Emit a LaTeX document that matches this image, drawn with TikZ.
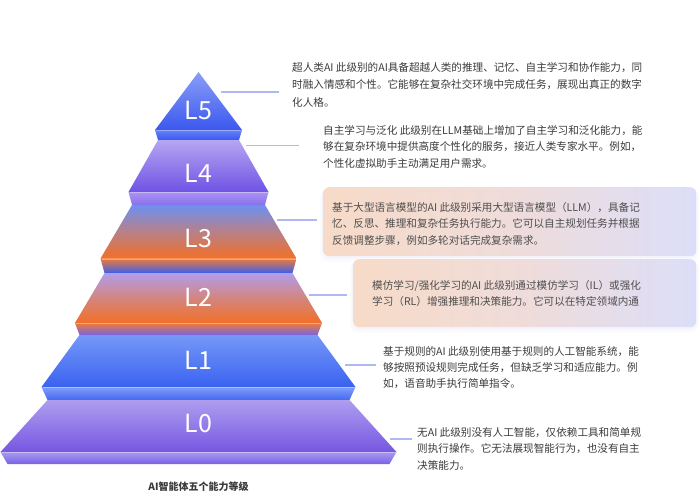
\documentclass[tikz,border=0pt]{standalone}
\usepackage{fontspec}
\setmainfont{Noto Sans CJK SC}
\definecolor{lfivetop}{HTML}{8A9EF7}
\definecolor{lfivebot}{HTML}{3B58EF}
\definecolor{lfivebt}{HTML}{6482F8}
\definecolor{lfivebb}{HTML}{3A58F0}
\definecolor{lfourtop}{HTML}{B6A6F1}
\definecolor{lfourbot}{HTML}{6F52E5}
\definecolor{lfourbt}{HTML}{AA94F3}
\definecolor{lfourbb}{HTML}{8A6FEC}
\definecolor{lthreetop}{HTML}{6C90F1}
\definecolor{lthreemid}{HTML}{B88088}
\definecolor{lthreebot}{HTML}{F26F26}
\definecolor{lthreebt}{HTML}{EE7A3A}
\definecolor{lthreebb}{HTML}{3C5EEA}
\definecolor{ltwotop}{HTML}{B29DEC}
\definecolor{ltwomid}{HTML}{D3857F}
\definecolor{ltwobot}{HTML}{F26F26}
\definecolor{ltwobt}{HTML}{EE7A3A}
\definecolor{ltwobb}{HTML}{7664E2}
\definecolor{lonetop}{HTML}{7598F8}
\definecolor{lonebot}{HTML}{3A62F0}
\definecolor{lonebt}{HTML}{7E9EF9}
\definecolor{lonebb}{HTML}{4469F2}
\definecolor{lzerotop}{HTML}{AD9EEF}
\definecolor{lzerobot}{HTML}{7657E2}
\definecolor{lzerobt}{HTML}{A99AF1}
\definecolor{lzerobb}{HTML}{7B61E5}
\definecolor{linkcol}{HTML}{AEB8F2}
\definecolor{txtcol}{HTML}{3A3A3A}
\definecolor{boxtxt}{HTML}{4E4E4E}
\definecolor{peach}{HTML}{F7DBC8}
\definecolor{peachmid}{HTML}{EFDCDA}
\definecolor{lav}{HTML}{DCDEF8}
\definecolor{shadowcol}{HTML}{C8CCF2}
\begin{document}
\begin{tikzpicture}[x=1pt,y=-1pt,
  lvl/.style={text=white,font=\fontsize{25}{28}\selectfont,inner sep=0pt},
  desc/.style={text=txtcol,align=left,anchor=base west,inner sep=0pt},
  boxdesc/.style={text=boxtxt,align=left,anchor=base west,inner sep=0pt},
  link/.style={draw=linkcol,line width=1.1pt},
  tbox/.style={rounded corners=6pt,left color=peach,right color=lav,middle color=peachmid,anchor=north west,inner sep=0pt},
  hl/.style={draw=white,opacity=0.35,line width=0.8pt}]
\useasboundingbox (0,0) rectangle (700,501);

% L5
\shade[top color=lfivetop,bottom color=lfivebot] (198.5,72) -- (242,130) -- (155,130) -- cycle;
\shade[top color=lfivebt,bottom color=lfivebb] (155,130) -- (242,130) -- (239,140) -- (158,140) -- cycle;
\draw[hl] (156,130.5) -- (241,130.5);
% L4
\shade[top color=lfourtop,bottom color=lfourbot] (158,140) -- (239,140) -- (268.5,192) -- (128.5,192) -- cycle;
\shade[top color=lfourbt,bottom color=lfourbb] (128.5,192) -- (268.5,192) -- (265,205) -- (132,205) -- cycle;
\draw[hl] (129.5,192.5) -- (267.5,192.5);
% L3
\shade[top color=lthreetop,bottom color=lthreebot,middle color=lthreemid] (132,205) -- (265,205) -- (296.5,258.5) -- (100.5,258.5) -- cycle;
\shade[top color=lthreebt,bottom color=lthreebb] (100.5,258.5) -- (296.5,258.5) -- (292.5,273) -- (104.5,273) -- cycle;
\draw[hl] (101.5,259) -- (295.5,259);
% L2
\shade[top color=ltwotop,bottom color=ltwobot,middle color=ltwomid] (104.5,273) -- (292.5,273) -- (322,323) -- (75,323) -- cycle;
\shade[top color=ltwobt,bottom color=ltwobb] (75,323) -- (322,323) -- (317.5,335) -- (79.5,335) -- cycle;
\draw[hl] (76,323.5) -- (321,323.5);
% L1
\shade[top color=lonetop,bottom color=lonebot] (79.5,335) -- (317.5,335) -- (355.5,387) -- (41.5,387) -- cycle;
\shade[top color=lonebt,bottom color=lonebb] (41.5,387) -- (355.5,387) -- (349.5,400) -- (47.5,400) -- cycle;
\draw[hl] (42.5,387.5) -- (354.5,387.5);
% L0
\shade[top color=lzerotop,bottom color=lzerobot] (47.5,400) -- (349.5,400) -- (396.5,452) -- (0.5,452) -- cycle;
\shade[top color=lzerobt,bottom color=lzerobb] (0.5,452) -- (396.5,452) -- (389.5,464) -- (7.5,464) -- cycle;
\draw[hl] (1.5,452.5) -- (395.5,452.5);

% level labels
\node[lvl] (l5) at (198.5,110) {L5};
\node[lvl] (l4) at (198.5,173) {L4};
\node[lvl] (l3) at (198.5,238) {L3};
\node[lvl] (l2) at (198.5,297) {L2};
\node[lvl] (l1) at (198.5,360) {L1};
\node[lvl] (l0) at (198.5,423) {L0};

% boxes with soft shadows
\foreach \d/\o in {6/0.05,4/0.07,2/0.09}{
  \fill[shadowcol,opacity=\o,rounded corners=8pt] (323-\d*0.5,187+\d*0.3) rectangle (696+\d*0.5,256+\d);
  \fill[shadowcol,opacity=\o,rounded corners=8pt] (353-\d*0.5,259+\d*0.3) rectangle (696+\d*0.5,327+\d);
}
\node[tbox,minimum width=373pt,minimum height=69pt] (b3) at (323,187) {};
\node[tbox,minimum width=343pt,minimum height=68pt] (b2) at (353,259) {};

% connector coordinates
\coordinate (c5a) at (221,92);  \coordinate (c5b) at (279,92);
\coordinate (c4a) at (246,145.5); \coordinate (c4b) at (299,145.5);
\coordinate (c3a) at (277,220); \coordinate (c3b) at (317,220);
\coordinate (c2a) at (309,295); \coordinate (c2b) at (347,295);
\coordinate (c1a) at (345,365); \coordinate (c1b) at (376,365);
\coordinate (c0a) at (390,439); \coordinate (c0b) at (412,439);
\draw[link] (c5a) -- (c5b);
\draw[link] (c4a) -- (c4b);
\draw[link] (c3a) -- (c3b);
\draw[link] (c2a) -- (c2b);
\draw[link] (c1a) -- (c1b);
\draw[link] (c0a) -- (c0b);

% descriptions (anchor = baseline of last line)
\node[desc,font=\fontsize{10.6}{17.5}\selectfont] (t5) at (292,106)
 {超人类AI 此级别的AI具备超越人类的推理、记忆、自主学习和协作能力，同\\
  时融入情感和个性。它能够在复杂社交环境中完成任务，展现出真正的数字\\
  化人格。};
\node[desc,font=\fontsize{10.6}{16.5}\selectfont] (t4) at (323,167)
 {自主学习与泛化 此级别在LLM基础上增加了自主学习和泛化能力，能\\
  够在复杂环境中提供高度个性化的服务，接近人类专家水平。例如，\\
  个性化虚拟助手主动满足用户需求。};
\node[boxdesc,font=\fontsize{10.6}{16.5}\selectfont] (t3) at (332,244)
 {基于大型语言模型的AI 此级别采用大型语言模型（LLM），具备记\\
  忆、反思、推理和复杂任务执行能力。它可以自主规划任务并根据\\
  反馈调整步骤，例如多轮对话完成复杂需求。};
\node[boxdesc,font=\fontsize{10.6}{16}\selectfont] (t2) at (372,305)
 {模仿学习/强化学习的AI 此级别通过模仿学习（IL）或强化\\
  学习（RL）增强推理和决策能力。它可以在特定领域内通};
\node[desc,font=\fontsize{10.6}{16}\selectfont] (t1) at (383,387)
 {基于规则的AI 此级别使用基于规则的人工智能系统，能\\
  够按照预设规则完成任务，但缺乏学习和适应能力。例\\
  如，语音助手执行简单指令。};
\node[desc,font=\fontsize{10.6}{16.5}\selectfont] (t0) at (417,469)
 {无AI 此级别没有人工智能，仅依赖工具和简单规\\
  则执行操作。它无法展现智能行为，也没有自主\\
  决策能力。};

\node[font=\bfseries\fontsize{10}{12}\selectfont,text=txtcol] (cap) at (198.5,487) {AI智能体五个能力等级};
\end{tikzpicture}
\end{document}
